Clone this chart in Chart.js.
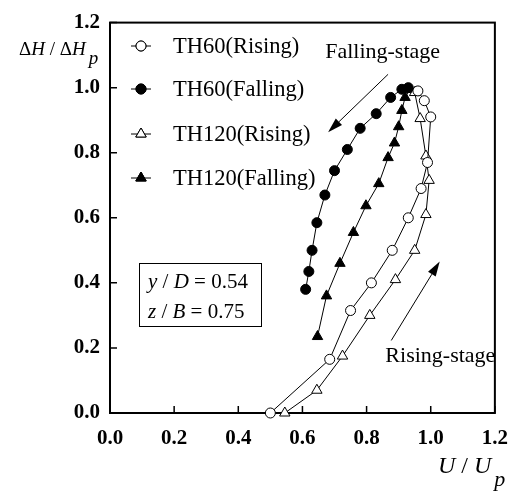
<!DOCTYPE html>
<html>
<head>
<meta charset="utf-8">
<script src="https://cdn.jsdelivr.net/npm/chart.js@4"></script>
<style>
html, body { margin: 0; padding: 0; background: #fff; }
</style>
</head>
<body>
<canvas id="myChart" width="521" height="492"></canvas>
<script>
// axis ticks
const tickValues = [0.0, 0.2, 0.4, 0.6, 0.8, 1.0, 1.2];
const seriesNames = ['TH60(Rising)', 'TH60(Falling)', 'TH120(Rising)', 'TH120(Falling)'];

// TH60 rising-stage
const th60RiseU = [0.50, 0.685, 0.75, 0.815, 0.88, 0.93, 0.97, 0.99, 1.00, 0.98, 0.96];
const th60RiseH = [0.00, 0.165, 0.315, 0.40, 0.50, 0.60, 0.69, 0.77, 0.91, 0.96, 0.99];
// TH60 falling-stage
const th60FallU = [0.93, 0.91, 0.875, 0.83, 0.78, 0.74, 0.70, 0.67, 0.645, 0.63, 0.62, 0.61];
const th60FallH = [1.00, 0.995, 0.97, 0.92, 0.875, 0.81, 0.745, 0.67, 0.585, 0.50, 0.435, 0.38];
// TH120 rising-stage
const th120RiseU = [0.545, 0.645, 0.725, 0.81, 0.89, 0.95, 0.985, 0.995, 0.985, 0.967, 0.95];
const th120RiseH = [0.00, 0.07, 0.175, 0.30, 0.41, 0.50, 0.61, 0.715, 0.79, 0.905, 0.985];
// TH120 falling-stage
const th120FallU = [0.935, 0.92, 0.91, 0.90, 0.887, 0.867, 0.838, 0.798, 0.759, 0.717, 0.675, 0.647];
const th120FallH = [0.995, 0.97, 0.93, 0.88, 0.83, 0.785, 0.705, 0.637, 0.555, 0.46, 0.36, 0.235];

const SERIF = '"Liberation Serif", "DejaVu Serif", serif';

function pts(xs, ys) {
    return xs.map((x, i) => ({ x: x, y: ys[i] }));
}

function makeSet(label, xs, ys, style, filled) {
    return {
        label: label,
        data: pts(xs, ys),
        showLine: true,
        borderColor: '#000',
        borderWidth: 1,
        pointStyle: style,
        pointRadius: style === 'triangle' ? 6 : 5,
        pointBorderWidth: 1,
        pointBorderColor: '#000',
        pointBackgroundColor: filled ? '#000' : '#fff',
        clip: false
    };
}

const markers = [['circle', false], ['circle', true], ['triangle', false], ['triangle', true]];

// draw a row of text runs with different fonts
function runs(ctx, x, y, parts) {
    parts.forEach(p => {
        ctx.font = p[1];
        ctx.fillText(p[0], x + (p[3] || 0), y + (p[2] || 0));
        x += ctx.measureText(p[0]).width + (p[3] || 0);
    });
}

function arrow(ctx, x1, y1, x2, y2) {
    const a = Math.atan2(y2 - y1, x2 - x1);
    const len = 15, w = 4.5;
    ctx.beginPath();
    ctx.moveTo(x1, y1);
    ctx.lineTo(x2 - len * Math.cos(a), y2 - len * Math.sin(a));
    ctx.stroke();
    ctx.beginPath();
    ctx.moveTo(x2, y2);
    ctx.lineTo(x2 - len * Math.cos(a) + w * Math.sin(a), y2 - len * Math.sin(a) - w * Math.cos(a));
    ctx.lineTo(x2 - len * Math.cos(a) - w * Math.sin(a), y2 - len * Math.sin(a) + w * Math.cos(a));
    ctx.closePath();
    ctx.fill();
}

const framePlugin = {
    id: 'frame',
    beforeDatasetsDraw(chart) {
        const ctx = chart.ctx, a = chart.chartArea;
        const xs = chart.scales.x, ys = chart.scales.y;
        ctx.save();
        ctx.strokeStyle = '#000';
        ctx.lineWidth = 2;
        ctx.strokeRect(a.left, a.top, a.right - a.left, a.bottom - a.top);
        ctx.lineWidth = 1.5;
        ctx.beginPath();
        tickValues.forEach(v => {
            const px = xs.getPixelForValue(v);
            ctx.moveTo(px, a.bottom);
            ctx.lineTo(px, a.bottom - 7);
            const py = ys.getPixelForValue(v);
            ctx.moveTo(a.left, py);
            ctx.lineTo(a.left + 7, py);
        });
        ctx.stroke();
        ctx.restore();
    },
    afterDraw(chart) {
        const ctx = chart.ctx;
        const xs = chart.scales.x, ys = chart.scales.y;
        ctx.save();
        ctx.fillStyle = '#000';
        ctx.strokeStyle = '#000';
        ctx.textBaseline = 'alphabetic';

        // axis titles
        runs(ctx, 19, 55, [
            ['\u0394', '19px ' + SERIF], ['H', 'italic 19px ' + SERIF],
            [' / \u0394', '19px ' + SERIF], ['H', 'italic 19px ' + SERIF],
            ['p', 'italic 19px ' + SERIF, 9, 3]
        ]);
        runs(ctx, 438, 473, [
            ['U', 'italic 24px ' + SERIF], [' / ', '24px ' + SERIF],
            ['U', 'italic 24px ' + SERIF], ['p', 'italic 22px ' + SERIF, 13, 3]
        ]);

        // legend
        const rows = [46, 89, 134, 178];
        seriesNames.forEach((name, i) => {
            const y = rows[i];
            ctx.lineWidth = 1;
            ctx.beginPath();
            ctx.moveTo(131, y);
            ctx.lineTo(151, y);
            ctx.stroke();
            ctx.fillStyle = markers[i][1] ? '#000' : '#fff';
            Chart.helpers.drawPoint(ctx, { pointStyle: markers[i][0], radius: markers[i][0] === 'triangle' ? 6 : 5, borderWidth: 1 }, 141, y);
            ctx.fill();
            ctx.stroke();
            ctx.fillStyle = '#000';
            ctx.font = '22.5px ' + SERIF;
            ctx.textBaseline = 'middle';
            ctx.fillText(name, 173, y + 1);
        });

        // stage arrows and labels (data units)
        ctx.lineWidth = 1;
        arrow(ctx, xs.getPixelForValue(0.867), ys.getPixelForValue(1.041),
                   xs.getPixelForValue(0.680), ys.getPixelForValue(0.863));
        arrow(ctx, xs.getPixelForValue(0.877), ys.getPixelForValue(0.223),
                   xs.getPixelForValue(1.028), ys.getPixelForValue(0.466));
        ctx.font = '22px ' + SERIF;
        ctx.textAlign = 'center';
        ctx.textBaseline = 'middle';
        ctx.fillText('Falling-stage', xs.getPixelForValue(0.85), ys.getPixelForValue(1.109));
        ctx.fillText('Rising-stage', xs.getPixelForValue(1.03), ys.getPixelForValue(0.176));

        // parameter box
        ctx.textAlign = 'left';
        ctx.textBaseline = 'alphabetic';
        ctx.lineWidth = 1;
        ctx.strokeRect(139.5, 263.5, 122, 63);
        runs(ctx, 148, 288, [
            ['y', 'italic 21px ' + SERIF], [' / ', '21px ' + SERIF],
            ['D', 'italic 21px ' + SERIF], [' = 0.54', '21px ' + SERIF]
        ]);
        runs(ctx, 148, 318, [
            ['z', 'italic 21px ' + SERIF], [' / ', '21px ' + SERIF],
            ['B', 'italic 21px ' + SERIF], [' = 0.75', '21px ' + SERIF]
        ]);
        ctx.restore();
    }
};

const ctx = document.getElementById('myChart').getContext('2d');
const myChart = new Chart(ctx, {
    type: 'scatter',
    data: {
        datasets: [
            makeSet(seriesNames[0], th60RiseU, th60RiseH, 'circle', false),
            makeSet(seriesNames[1], th60FallU, th60FallH, 'circle', true),
            makeSet(seriesNames[2], th120RiseU, th120RiseH, 'triangle', false),
            makeSet(seriesNames[3], th120FallU, th120FallH, 'triangle', true)
        ]
    },
    options: {
        responsive: false,
        animation: false,
        layout: {
            padding: { left: 0, top: 17, right: 14, bottom: 0 }
        },
        plugins: {
            legend: { display: false },
            tooltip: { enabled: false }
        },
        scales: {
            x: {
                type: 'linear',
                min: 0,
                max: 1.2,
                afterFit: s => { s.height = 79; },
                afterBuildTicks: s => { s.ticks = tickValues.map(v => ({ value: v })); },
                grid: { display: false, drawTicks: false },
                border: { display: false },
                ticks: {
                    padding: 13,
                    color: '#000',
                    font: { family: SERIF, size: 21, weight: 'bold' },
                    callback: v => v.toFixed(1)
                }
            },
            y: {
                type: 'linear',
                min: 0,
                max: 1.2,
                afterFit: s => { s.width = 110; },
                afterBuildTicks: s => { s.ticks = tickValues.map(v => ({ value: v })); },
                grid: { display: false, drawTicks: false },
                border: { display: false },
                ticks: {
                    padding: 10,
                    color: '#000',
                    font: { family: SERIF, size: 21, weight: 'bold' },
                    callback: v => v.toFixed(1)
                }
            }
        }
    },
    plugins: [framePlugin]
});
</script>
</body>
</html>
